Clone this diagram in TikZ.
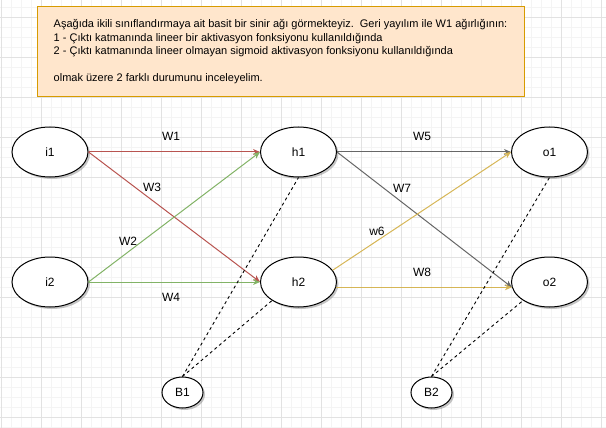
\documentclass[tikz,border=0pt]{standalone}
\usepackage{fontspec}
\setmainfont{Liberation Sans}
\usepackage{tikz}
\usetikzlibrary{arrows.meta}
\usetikzlibrary{shapes.geometric}
\usetikzlibrary{shadows}

\definecolor{wred}{HTML}{B85450}
\definecolor{wgreen}{HTML}{82B366}
\definecolor{wgray}{HTML}{666666}
\definecolor{wyellow}{HTML}{D6B656}
\definecolor{notefill}{HTML}{FFE6CC}
\definecolor{noteline}{HTML}{D79B00}
\definecolor{gridminor}{HTML}{F4F4F4}
\definecolor{gridmajor}{HTML}{E2E2E2}

\begin{document}
\begin{tikzpicture}[x=1pt, y=-1pt, line width=1pt,
    main/.style = {draw, ellipse, fill=white, inner sep=0pt, minimum width=76pt, minimum height=50pt,
        drop shadow={shadow xshift=2pt, shadow yshift=-2pt, fill=black!45}, font=\fontsize{12}{14}\selectfont},
    bias/.style = {main, minimum width=41pt, minimum height=31pt},
    wlabel/.style = {inner sep=0pt, font=\fontsize{12}{14}\selectfont},
    wire/.style = {-{Stealth[length=7pt, width=6pt]}},
    biasline/.style = {black, line width=0.9pt, dash pattern=on 3pt off 3pt},
    note/.style = {draw=noteline, fill=notefill, align=left, inner sep=0pt, minimum width=487pt,
        minimum height=90pt, font=\fontsize{11}{13.5}\selectfont}]
    \useasboundingbox (0,0) rectangle (606,428);

    % grid
    \foreach \x in {1,11,...,601} \draw [gridminor, line width=0.8pt] (\x,0) -- (\x,428);
    \foreach \y in {7,17,...,427} \draw [gridminor, line width=0.8pt] (0,\y) -- (606,\y);
    \foreach \x in {1,41,...,601} \draw [gridmajor, line width=0.8pt] (\x,0) -- (\x,428);
    \foreach \y in {17,57,...,417} \draw [gridmajor, line width=0.8pt] (0,\y) -- (606,\y);

    \node [note] (info) at (280.5,52) {A\c{s}a\u{g}\i da ikili s\i n\i fland\i rmaya ait basit bir sinir a\u{g}\i\ g\"ormekteyiz.\ \ Geri yay\i l\i m ile W1 a\u{g}\i rl\i\u{g}\i n\i n:\\
        1 - \c{C}\i kt\i\ katman\i nda lineer bir aktivasyon fonksiyonu kullan\i ld\i\u{g}\i nda\\
        2 - \c{C}\i kt\i\ katman\i nda lineer olmayan sigmoid aktivasyon fonksiyonu kullan\i ld\i\u{g}\i nda\\
        \mbox{}\\
        olmak \"uzere 2 farkl\i\ durumunu inceleyelim.};

    \node [main] (i1) at (50, 152) {i1};
    \node [main] (i2) at (50, 282) {i2};
    \node [main] (h1) at (298.5, 152) {h1};
    \node [main] (h2) at (298.5, 282) {h2};
    \node [main] (o1) at (549.5, 152) {o1};
    \node [main] (o2) at (549.5, 282) {o2};
    \node [bias] (B1) at (182.5, 392.5) {B1};
    \node [bias] (B2) at (431.5, 392.5) {B2};

    \draw [wire, wred] (i1.east) to (h1.west);
    \draw [wire, wred] (i1.east) to (h2.west);
    \draw [wire, wgreen] (i2.east) to (h1.west);
    \draw [wire, wgreen] (i2.east) to (h2.west);
    \draw [wire, wgray] (h1.east) to (o1.west);
    \draw [wire, wgray] (h1.east) to (o2.188);
    \draw [wire, wyellow] (h2.19) to (o1.west);
    \draw [wire, wyellow] (h2.-8) to (o2.188);

    \draw [biasline] (B1.north) to (h1.south);
    \draw [biasline] (B1.north) to (h2.215);
    \draw [biasline] (B2.north) to (o1.south);
    \draw [biasline] (B2.north) to (o2.215);

    \node [wlabel] (lw1) at (171, 136) {W1};
    \node [wlabel] (lw3) at (152, 187) {W3};
    \node [wlabel] (lw2) at (128, 241) {W2};
    \node [wlabel] (lw4) at (171, 297) {W4};
    \node [wlabel] (lw5) at (422, 136) {W5};
    \node [wlabel] (lw7) at (402, 188) {W7};
    \node [wlabel] (lw6) at (377, 231) {w6};
    \node [wlabel] (lw8) at (422, 272) {W8};

\end{tikzpicture}
\end{document}
